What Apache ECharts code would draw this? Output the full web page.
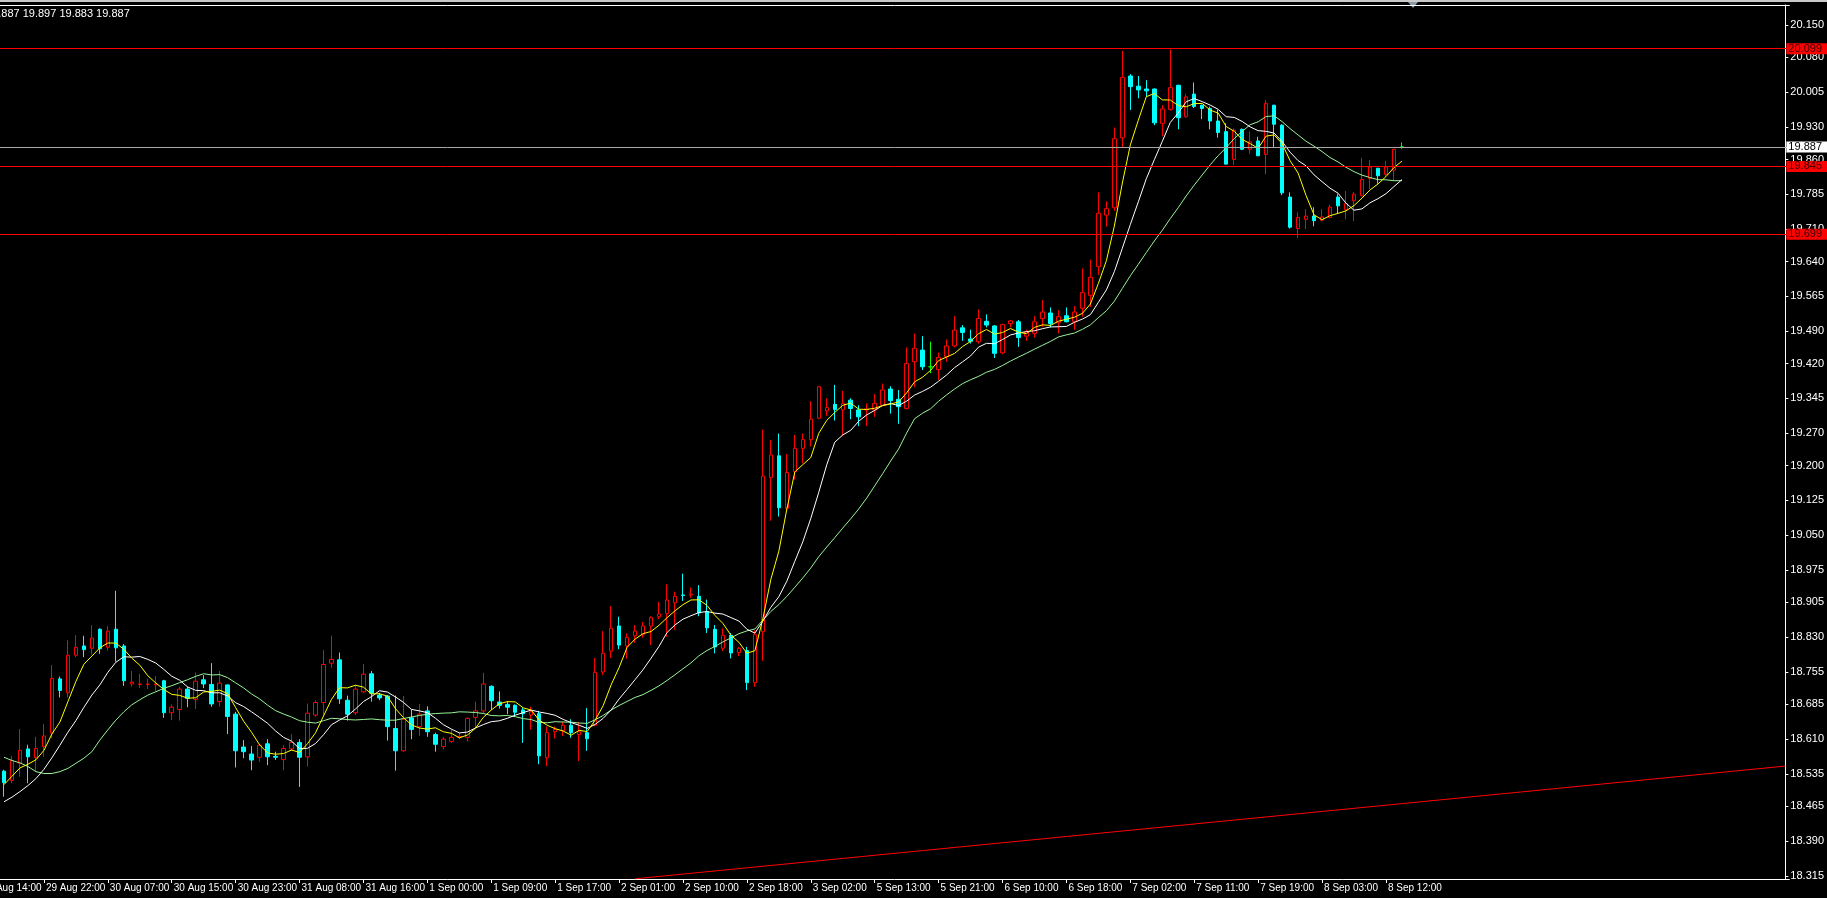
<!DOCTYPE html>
<html><head><meta charset="utf-8">
<script src="https://cdn.jsdelivr.net/npm/echarts@6/dist/echarts.min.js"></script>
<style>html,body{margin:0;padding:0;background:#000;overflow:hidden}#c{width:1827px;height:898px}</style>
</head><body><div id="c"></div>
<script>
// ---- data (H1 candles, index 0 = first visible bar) ----
const opens = [18.541,18.521,18.558,18.589,18.570,18.594,18.623,18.740,18.710,18.791,
18.811,18.806,18.847,18.808,18.847,18.811,18.729,18.728,18.728,18.727,
18.736,18.667,18.674,18.718,18.696,18.738,18.728,18.691,18.727,18.664,
18.593,18.578,18.571,18.600,18.573,18.566,18.589,18.603,18.572,18.662,
18.689,18.774,18.781,18.694,18.667,18.712,18.751,18.705,18.703,18.633,
18.585,18.656,18.637,18.671,18.620,18.594,18.605,18.614,18.614,18.657,
18.671,18.724,18.690,18.685,18.683,18.673,18.662,18.665,18.570,18.626,
18.628,18.640,18.620,18.624,18.640,18.755,18.800,18.854,18.811,18.833,
18.836,18.854,18.874,18.881,18.904,18.921,18.921,18.918,18.885,18.847,
18.806,18.834,18.797,18.801,18.732,18.842,19.174,19.221,19.108,19.187,
19.237,19.256,19.302,19.318,19.332,19.320,19.341,19.320,19.320,19.320,
19.330,19.365,19.343,19.323,19.424,19.449,19.413,19.407,19.435,19.458,
19.497,19.473,19.467,19.511,19.501,19.443,19.506,19.510,19.479,19.485,
19.517,19.529,19.508,19.523,19.510,19.539,19.567,19.629,19.740,19.756,
19.907,20.040,20.018,20.012,20.012,19.938,19.968,20.020,19.952,20.001,
19.977,19.970,19.943,19.920,19.860,19.925,19.882,19.900,19.871,19.977,
19.934,19.779,19.711,19.731,19.738,19.729,19.735,19.779,19.752,19.771,
19.782,19.819,19.841,19.828,19.837,19.887];
const highs = [18.544,18.574,18.632,18.598,18.615,18.643,18.770,18.745,18.823,18.834,
18.833,18.856,18.849,18.854,18.930,18.815,18.757,18.751,18.740,18.746,
18.738,18.685,18.723,18.723,18.754,18.748,18.774,18.757,18.728,18.669,
18.608,18.595,18.599,18.610,18.583,18.597,18.621,18.610,18.687,18.694,
18.802,18.833,18.797,18.704,18.727,18.772,18.757,18.710,18.705,18.704,
18.703,18.674,18.686,18.681,18.624,18.615,18.631,18.624,18.657,18.691,
18.753,18.726,18.713,18.692,18.685,18.678,18.680,18.671,18.637,18.637,
18.647,18.653,18.647,18.677,18.785,18.843,18.897,18.874,18.838,18.856,
18.863,18.875,18.906,18.944,18.928,18.967,18.937,18.942,18.911,18.856,
18.849,18.839,18.809,18.809,18.845,19.278,19.255,19.269,19.225,19.266,
19.269,19.339,19.371,19.345,19.374,19.361,19.345,19.330,19.334,19.354,
19.377,19.371,19.363,19.455,19.485,19.479,19.467,19.444,19.472,19.522,
19.503,19.493,19.537,19.526,19.503,19.506,19.514,19.514,19.493,19.522,
19.557,19.541,19.535,19.541,19.544,19.625,19.644,19.789,19.770,19.929,
20.094,20.044,20.040,20.031,20.013,19.977,20.097,20.021,20.002,20.026,
19.978,19.974,19.967,19.938,19.927,19.927,19.920,19.909,19.988,19.978,
19.936,19.789,19.746,19.753,19.757,19.753,19.762,19.785,19.792,19.790,
19.864,19.859,19.842,19.857,19.883,19.897];
const lows = [18.486,18.515,18.529,18.515,18.540,18.572,18.612,18.700,18.700,18.787,
18.787,18.792,18.794,18.801,18.777,18.725,18.723,18.720,18.718,18.713,
18.656,18.651,18.650,18.679,18.675,18.720,18.680,18.680,18.621,18.549,
18.569,18.543,18.561,18.554,18.565,18.543,18.585,18.507,18.551,18.658,
18.662,18.764,18.686,18.650,18.662,18.710,18.691,18.694,18.607,18.542,
18.582,18.610,18.617,18.615,18.583,18.588,18.602,18.610,18.605,18.633,
18.666,18.673,18.676,18.664,18.658,18.602,18.631,18.556,18.552,18.611,
18.617,18.613,18.563,18.585,18.638,18.748,18.785,18.804,18.783,18.818,
18.829,18.813,18.869,18.831,18.846,18.908,18.915,18.875,18.839,18.795,
18.800,18.784,18.789,18.716,18.723,18.779,19.081,19.090,19.104,19.170,
19.205,19.241,19.300,19.307,19.297,19.264,19.300,19.285,19.285,19.305,
19.328,19.312,19.290,19.321,19.369,19.406,19.399,19.384,19.424,19.455,
19.469,19.463,19.463,19.498,19.432,19.440,19.498,19.456,19.469,19.476,
19.499,19.498,19.485,19.509,19.493,19.521,19.542,19.611,19.715,19.749,
19.886,19.967,19.992,19.995,19.934,19.910,19.965,19.925,19.950,19.971,
19.947,19.925,19.907,19.849,19.848,19.880,19.872,19.867,19.828,19.887,
19.783,19.711,19.691,19.710,19.716,19.726,19.733,19.744,19.731,19.727,
19.780,19.796,19.808,19.823,19.815,19.883];
const closes = [18.516,18.564,18.586,18.572,18.590,18.617,18.741,18.715,18.791,18.808,
18.803,18.828,18.805,18.843,18.807,18.736,18.733,18.729,18.729,18.729,
18.667,18.679,18.718,18.698,18.735,18.729,18.686,18.731,18.659,18.585,
18.583,18.565,18.597,18.572,18.571,18.590,18.603,18.571,18.666,18.689,
18.771,18.782,18.697,18.664,18.718,18.750,18.709,18.699,18.637,18.585,
18.653,18.631,18.664,18.626,18.599,18.610,18.614,18.616,18.655,18.671,
18.729,18.693,18.683,18.679,18.668,18.665,18.669,18.574,18.624,18.631,
18.640,18.624,18.626,18.611,18.754,18.795,18.849,18.813,18.829,18.843,
18.854,18.872,18.880,18.910,18.918,18.920,18.923,18.882,18.850,18.809,
18.834,18.796,18.806,18.732,18.836,19.177,19.223,19.109,19.185,19.237,
19.256,19.300,19.370,19.325,19.321,19.334,19.323,19.305,19.322,19.334,
19.363,19.340,19.327,19.420,19.453,19.413,19.413,19.433,19.458,19.492,
19.487,19.468,19.517,19.503,19.442,19.504,19.512,19.476,19.488,19.510,
19.531,19.506,19.521,19.510,19.531,19.573,19.606,19.744,19.754,19.905,
20.037,20.017,20.010,20.008,19.939,19.969,20.015,19.950,19.995,19.974,
19.970,19.943,19.918,19.850,19.923,19.882,19.898,19.868,19.981,19.936,
19.788,19.714,19.735,19.738,19.728,19.736,19.757,19.760,19.765,19.785,
19.817,19.844,19.825,19.844,19.882,19.887];
const ma5Head = [18.512,18.530,18.548,18.556];
const ma10Head = [18.475,18.485,18.497,18.510,18.525,18.545,18.570,18.597,18.625];
const ma20Head = [18.571,18.564,18.559,18.551,18.540,18.536,18.536,18.540,18.547,18.558,
18.569,18.583,18.608,18.630,18.651,18.669,18.684,18.695,18.705];
const timeLabels = ['29 Aug 14:00','29 Aug 22:00','30 Aug 07:00','30 Aug 15:00','30 Aug 23:00',
'31 Aug 08:00','31 Aug 16:00','1 Sep 00:00','1 Sep 09:00','1 Sep 17:00','2 Sep 01:00',
'2 Sep 10:00','2 Sep 18:00','3 Sep 02:00','5 Sep 13:00','5 Sep 21:00','6 Sep 10:00',
'6 Sep 18:00','7 Sep 02:00','7 Sep 11:00','7 Sep 19:00','8 Sep 03:00','8 Sep 12:00'];
const firstLabelBar = -3;   // bar index of the first time label
const labelStep = 8;        // bars between time labels
const priceTicks = ['18.315','18.390','18.465','18.535','18.610','18.685','18.755','18.830',
'18.905','18.975','19.050','19.125','19.200','19.270','19.345','19.420','19.490','19.565',
'19.640','19.710','19.785','19.860','19.930','20.005','20.080','20.150'];
const levelLines = ['20.099', '19.845', '19.699'];
const bidPrice = '19.887';
const trendLine = [[79, 18.309], [223, 18.552]];
const headerText = '19.887 19.897 19.883 19.887';
const emptyBars = 48;

// ---- build ----
const FONT = "'Liberation Sans Narrow','Liberation Sans',Arial,sans-serif";
const totalBars = closes.length + emptyBars;
const categories = Array.from({length: totalBars}, (_, i) => String(i));
const candleData = closes.map((c, i) => [opens[i], c, lows[i], highs[i]]);
function labelFor(i) {
  const k = (i - firstLabelBar) / labelStep;
  return (Number.isInteger(k) && k >= 0 && k < timeLabels.length) ? timeLabels[k] : '';
}
function sma(period, head) {
  return closes.map((c, i) => {
    if (i < head.length) return head[i];
    let s = 0; for (let j = i - period + 1; j <= i; j++) s += closes[j];
    return +(s / period).toFixed(5);
  });
}
const tickVals = priceTicks.map(Number);
const yMin = 18.3085, yMax = 20.1931;

const chart = echarts.init(document.getElementById('c'), null, {renderer: 'canvas'});
const lvlLabel = (bg, fg) => ({show: true, position: 'end', distance: -3, formatter: p => p.name,
  backgroundColor: bg, color: fg, fontFamily: FONT, fontSize: 11, lineHeight: 10, padding: [1, 6, 0, 2]});
const option = {
  backgroundColor: '#000000',
  animation: false,
  grid: {left: 0, right: 35, top: 5, bottom: 19},
  xAxis: [{
    type: 'category', data: categories, boundaryGap: true,
    axisLine: {onZero: false, lineStyle: {color: '#ffffff', width: 1}},
    axisTick: {show: true, alignWithLabel: true, length: 4, interval: i => labelFor(i) !== '', lineStyle: {color: '#ffffff'}},
    axisLabel: {interval: i => labelFor(i) !== '', formatter: (v, i) => labelFor(i), align: 'left',
      color: '#ffffff', fontFamily: FONT, fontSize: 10, margin: 4, padding: [0, 0, 0, 2]},
    splitLine: {show: false}
  }, {
    type: 'category', data: categories, position: 'top',
    axisLine: {onZero: false, lineStyle: {color: '#ffffff', width: 1}},
    axisTick: {show: false}, axisLabel: {show: false}, splitLine: {show: false}
  }],
  yAxis: {
    type: 'value', position: 'right', offset: -4, min: yMin, max: yMax,
    axisLine: {show: true, lineStyle: {color: '#ffffff'}},
    axisTick: {show: true, customValues: tickVals, length: 3, lineStyle: {color: '#ffffff'}},
    axisLabel: {customValues: tickVals, formatter: v => v.toFixed(3), color: '#ffffff', fontFamily: FONT, fontSize: 11, margin: 5},
    splitLine: {show: false}
  },
  series: [{
    type: 'candlestick', data: candleData, barWidth: 4, z: 2,
    itemStyle: {color: '#000000', color0: '#00ffff', borderColor: '#ff0000', borderColor0: '#00ffff',
      borderColorDoji: '#00ff00', borderWidth: 1},
    markLine: {
      silent: true, symbol: 'none', animation: false, precision: 3,
      data: [
        ...levelLines.map(v => ({name: v, yAxis: Number(v), lineStyle: {color: '#ff0000', width: 1, type: 'solid'}, label: lvlLabel('#ff0000', '#3a0000')})),
        {name: bidPrice, yAxis: Number(bidPrice), lineStyle: {color: '#a8a8a8', width: 1, type: 'solid'}, label: lvlLabel('#ffffff', '#000000')},
        [{coord: trendLine[0]}, {coord: trendLine[1]}].map(p => Object.assign(p, {lineStyle: {color: '#ff0000', width: 1, type: 'solid'}, label: {show: false}}))
      ]
    }
  }, {
    type: 'line', data: sma(20, ma20Head), showSymbol: false, symbol: 'none', z: 3,
    lineStyle: {color: '#98f598', width: 1}
  }, {
    type: 'line', data: sma(10, ma10Head), showSymbol: false, symbol: 'none', z: 3,
    lineStyle: {color: '#ffffff', width: 1}
  }, {
    type: 'line', data: sma(5, ma5Head), showSymbol: false, symbol: 'none', z: 4,
    lineStyle: {color: '#ffff00', width: 1}
  }]
};
chart.setOption(option);
const x0 = chart.convertToPixel({xAxisIndex: 0}, '0');
const firstLabelX = x0 + firstLabelBar * (chart.convertToPixel({xAxisIndex: 0}, '1') - x0);
chart.setOption({graphic: [
  {type: 'line', shape: {x1: 0, y1: 1, x2: 1827, y2: 1}, style: {stroke: '#c8c8c8', lineWidth: 2}, silent: true},
  {type: 'text', left: -14, top: 8, style: {text: headerText, fill: '#ffffff', font: '11px ' + FONT}, silent: true},
  {type: 'text', x: firstLabelX + 2, y: 883, style: {text: timeLabels[0], fill: '#ffffff', font: '10px ' + FONT}, silent: true},
  {type: 'polygon', shape: {points: [[1408, 2], [1418, 2], [1413, 8]]}, style: {fill: '#8c9aa8'}, silent: true}
]});
</script></body></html>
